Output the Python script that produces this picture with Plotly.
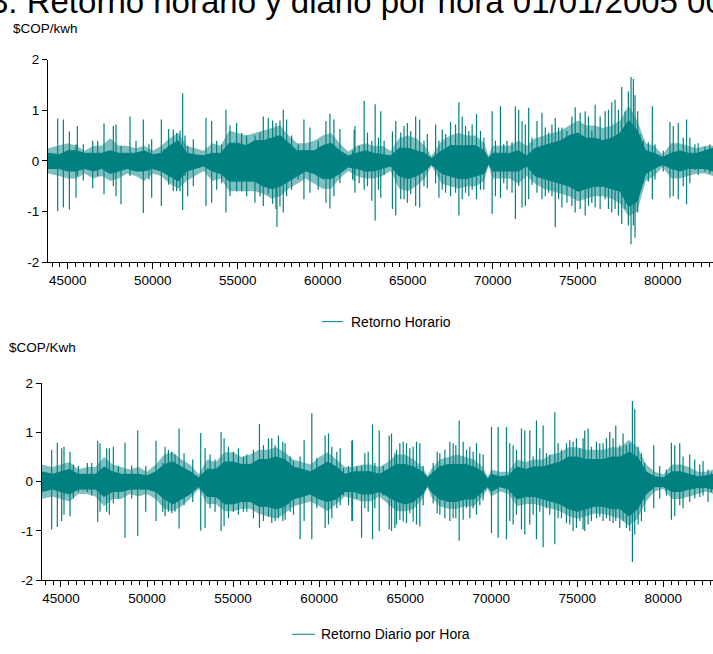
import plotly.graph_objects as go

TEAL = "#008080"
TEAL_SOFT = "rgba(0,128,128,0.5)"
FONT = "Liberation Sans, Arial, sans-serif"
W, H = 713, 654

title_text = "3. Retorno horario y diario por hora 01/01/2005 00:00 - 31/12/2009 23:00"
top_unit = "$COP/kwh"
bot_unit = "$COP/Kwh"
top_name = "Retorno Horario"
bot_name = "Retorno Diario por Hora"

x_ticks = [45000, 50000, 55000, 60000, 65000, 70000, 75000, 80000]
y_ticks = [-2, -1, 0, 1, 2]
y_ticktext = ["-2", "-1", "0", "1", "2"]

# ---------------- Retorno Horario (top) ----------------
top_core_x = [43840, 44500, 45000, 45500, 46000, 46500, 47000, 47500, 48000, 48500,
              49000, 49500, 50000, 50500, 51000, 51500, 52000, 52500, 53000, 53500,
              54000, 54500, 55000, 55500, 56000, 56500, 57000, 57500, 58000, 58500,
              59000, 59500, 60000, 60500, 61000, 61500, 62000, 62500, 63000, 63500,
              64000, 64500, 65000, 65500, 66000, 66400, 67000, 67500, 68000, 68500,
              69000, 69500, 69750, 70000, 70500, 71000, 71500, 72000, 72500, 73000,
              73500, 74000, 74500, 75000, 75500, 76000, 76500, 77000, 77500, 78000,
              78500, 79000, 79500, 80000, 80500, 81000, 81500, 82000, 82500, 82960]
top_core_hi = [0.15, 0.12, 0.20, 0.20, 0.15, 0.15, 0.15, 0.20, 0.15, 0.15,
               0.15, 0.20, 0.12, 0.15, 0.30, 0.40, 0.15, 0.12, 0.10, 0.15,
               0.15, 0.35, 0.35, 0.30, 0.40, 0.40, 0.45, 0.50, 0.35, 0.20,
               0.20, 0.20, 0.30, 0.35, 0.20, 0.10, 0.15, 0.20, 0.15, 0.12,
               0.10, 0.25, 0.25, 0.20, 0.15, 0.05, 0.20, 0.30, 0.30, 0.30,
               0.30, 0.20, 0.05, 0.15, 0.15, 0.15, 0.20, 0.10, 0.25, 0.30,
               0.35, 0.40, 0.50, 0.55, 0.45, 0.45, 0.40, 0.45, 0.55, 0.80,
               0.60, 0.20, 0.15, 0.07, 0.15, 0.20, 0.15, 0.15, 0.20, 0.25]
top_core_lo = [-0.15, -0.15, -0.20, -0.20, -0.15, -0.20, -0.15, -0.25, -0.20, -0.15,
               -0.20, -0.20, -0.15, -0.20, -0.30, -0.40, -0.20, -0.15, -0.10, -0.20,
               -0.25, -0.40, -0.40, -0.40, -0.40, -0.50, -0.55, -0.50, -0.40, -0.30,
               -0.20, -0.25, -0.35, -0.35, -0.25, -0.12, -0.15, -0.20, -0.20, -0.15,
               -0.10, -0.30, -0.35, -0.30, -0.20, -0.07, -0.25, -0.30, -0.35, -0.35,
               -0.30, -0.25, -0.05, -0.20, -0.20, -0.20, -0.20, -0.10, -0.30, -0.35,
               -0.40, -0.45, -0.50, -0.60, -0.55, -0.50, -0.50, -0.55, -0.60, -0.90,
               -0.80, -0.25, -0.15, -0.07, -0.15, -0.20, -0.15, -0.15, -0.15, -0.20]
# extent of the dense (but not solid) cloud of lines around the core
top_dense_hi = [0.25, 0.30, 0.35, 0.30, 0.20, 0.30, 0.30, 0.45, 0.30, 0.30,
                0.25, 0.30, 0.20, 0.30, 0.45, 0.55, 0.30, 0.25, 0.20, 0.35,
                0.30, 0.60, 0.55, 0.50, 0.55, 0.60, 0.65, 0.70, 0.50, 0.35,
                0.35, 0.40, 0.50, 0.55, 0.35, 0.18, 0.30, 0.35, 0.30, 0.30,
                0.20, 0.45, 0.50, 0.45, 0.30, 0.10, 0.40, 0.50, 0.55, 0.50,
                0.50, 0.35, 0.10, 0.30, 0.30, 0.30, 0.40, 0.30, 0.45, 0.50,
                0.55, 0.60, 0.70, 0.80, 0.70, 0.70, 0.65, 0.70, 0.80, 1.10,
                0.80, 0.35, 0.30, 0.12, 0.35, 0.35, 0.30, 0.25, 0.30, 0.30]
top_dense_lo = [-0.25, -0.30, -0.35, -0.35, -0.25, -0.35, -0.30, -0.40, -0.35, -0.25,
                -0.30, -0.40, -0.25, -0.30, -0.45, -0.55, -0.40, -0.30, -0.20, -0.40,
                -0.35, -0.60, -0.60, -0.60, -0.60, -0.65, -0.75, -0.70, -0.55, -0.45,
                -0.35, -0.45, -0.55, -0.55, -0.35, -0.20, -0.30, -0.35, -0.35, -0.30,
                -0.20, -0.55, -0.60, -0.50, -0.35, -0.10, -0.45, -0.50, -0.55, -0.50,
                -0.50, -0.40, -0.10, -0.35, -0.35, -0.35, -0.45, -0.30, -0.45, -0.55,
                -0.60, -0.65, -0.70, -0.80, -0.75, -0.70, -0.70, -0.75, -0.85, -1.10,
                -1.00, -0.40, -0.30, -0.12, -0.35, -0.35, -0.30, -0.25, -0.25, -0.30]

top_spike_x = [44412, 44745, 45098, 45490, 45568, 45921, 46470, 46764, 47136, 47685,
               47842, 48136, 48665, 49018, 49449, 49782, 49939, 50508, 50664, 50939,
               51213, 51409, 51605, 51762, 51899, 52056, 52389, 53134, 53467, 53761,
               54055, 54310, 54545, 54937, 55231, 55525, 56015, 56309, 56505, 56799,
               57054, 57250, 57309, 57485, 57681, 57877, 58171, 58563, 58896, 59249,
               59739, 60190, 60425, 60660, 61013, 61758, 61852, 61895, 62145, 62439,
               62634, 62888, 63084, 63279, 63416, 63612, 64101, 64297, 64590, 64785,
               64980, 65176, 65469, 65704, 65958, 66153, 66642, 66837, 67033, 67228,
               67521, 67815, 68010, 68206, 68401, 68597, 68792, 69046, 69281, 69477,
               69966, 70161, 70454, 70650, 70845, 71138, 71334, 71530, 71725, 71921,
               72116, 72312, 72605, 72898, 73094, 73289, 73485, 73680, 73876, 74071,
               74365, 74658, 74853, 75146, 75440, 75635, 75831, 76027, 76320, 76613,
               76809, 77004, 77200, 77395, 77591, 77786, 77982, 78138, 78275, 78373,
               78529, 78666, 78862, 79155, 79390, 79546, 80035, 80426, 80622, 80915,
               81208, 81404, 81599, 81892, 82088, 82479, 82772]
top_spike_hi = [0.84, 0.82, 0.58, 0.33, 0.69, 0.33, 0.40, 0.40, 0.74, 0.69,
                0.72, 0.30, 0.88, 0.40, 0.82, 0.33, 0.43, 0.82, 0.24, 0.63,
                0.62, 0.55, 0.60, 1.34, 0.50, 0.30, 0.43, 0.85, 0.79, 0.40,
                0.33, 1.01, 0.70, 0.75, 0.55, 0.50, 0.50, 0.56, 0.88, 0.85,
                0.80, 0.75, 0.50, 0.80, 1.01, 0.82, 0.50, 0.33, 0.82, 0.66,
                0.40, 0.79, 0.93, 0.82, 0.63, 0.20, 0.61, 0.69, 0.30, 1.19,
                0.56, 0.40, 1.12, 0.46, 0.98, 0.40, 0.58, 0.79, 0.56, 0.69,
                0.75, 0.59, 0.88, 0.82, 0.40, 0.53, 0.72, 0.40, 0.62, 0.53,
                0.77, 0.72, 1.16, 0.88, 0.69, 0.59, 0.72, 0.92, 0.59, 0.46,
                0.98, 0.40, 1.08, 0.33, 0.40, 0.37, 1.08, 1.01, 0.79, 0.72,
                1.05, 0.46, 0.79, 0.95, 0.66, 0.56, 0.72, 0.85, 0.66, 0.66,
                0.59, 0.88, 1.06, 0.95, 0.98, 0.88, 0.59, 1.11, 0.88, 0.98,
                1.01, 1.16, 1.21, 1.01, 1.46, 0.98, 1.37, 1.66, 1.62, 1.30,
                0.98, 0.53, 0.40, 0.37, 1.08, 0.33, 0.20, 0.77, 0.69, 0.75,
                0.46, 0.82, 0.46, 0.33, 0.35, 0.27, 0.33]
top_spike_lo = [-0.99, -0.92, -0.96, -0.73, -0.30, -0.39, -0.54, -0.30, -0.66, -0.50,
                -0.70, -0.86, -0.30, -0.20, -1.03, -0.37, -0.73, -0.89, -0.20, -0.47,
                -0.60, -0.60, -0.60, -0.97, -0.30, -0.70, -0.50, -0.89, -0.83, -0.57,
                -0.44, -1.02, -0.70, -0.60, -0.60, -0.70, -0.83, -0.70, -0.89, -0.66,
                -0.85, -0.95, -1.31, -0.90, -1.02, -0.70, -0.57, -0.37, -0.76, -0.63,
                -0.57, -0.83, -0.94, -0.70, -0.44, -0.37, -0.40, -0.63, -0.44, -0.57,
                -0.50, -0.79, -1.18, -0.57, -0.73, -0.28, -0.95, -1.08, -0.76, -0.76,
                -0.83, -0.66, -0.89, -0.92, -0.50, -0.54, -0.44, -0.73, -0.57, -0.63,
                -0.70, -0.63, -1.08, -0.76, -0.63, -0.70, -0.57, -0.76, -0.57, -0.57,
                -1.05, -0.70, -0.73, -0.44, -0.57, -0.63, -1.15, -0.50, -0.92, -0.89,
                -0.76, -0.47, -0.63, -0.76, -0.70, -0.63, -0.70, -1.31, -0.76, -0.92,
                -0.83, -0.89, -1.02, -0.95, -1.08, -0.89, -0.83, -0.92, -0.95, -0.76,
                -0.95, -1.02, -0.95, -1.08, -1.25, -0.95, -1.28, -1.65, -1.28, -1.52,
                -1.02, -0.50, -0.44, -0.41, -0.76, -0.37, -0.21, -0.73, -0.70, -0.76,
                -0.50, -0.86, -0.44, -0.18, -0.28, -0.21, -0.25]

# ---------------- Retorno Diario por Hora (bottom) ----------------
bot_core_x = [43880, 44500, 45000, 45500, 46000, 46500, 47000, 47500, 48000, 48500,
              49000, 49500, 50000, 50500, 51000, 51500, 52000, 52500, 53000, 53500,
              54000, 54500, 55000, 55500, 56000, 56500, 57000, 57500, 58000, 58500,
              59000, 59500, 60000, 60500, 61000, 61500, 62000, 62500, 63000, 63500,
              64000, 64500, 65000, 65500, 66000, 66300, 66500, 67000, 67500, 68000,
              68500, 69000, 69500, 69800, 70000, 70500, 71000, 71500, 72000, 72500,
              73000, 73500, 74000, 74500, 75000, 75500, 76000, 76500, 77000, 77500,
              78000, 78500, 79000, 79500, 80000, 80500, 81000, 81500, 82000, 82500, 82890]
bot_core_hi = [0.20, 0.15, 0.20, 0.25, 0.15, 0.15, 0.15, 0.30, 0.20, 0.15,
               0.15, 0.15, 0.12, 0.20, 0.35, 0.40, 0.30, 0.20, 0.08, 0.25,
               0.25, 0.40, 0.40, 0.35, 0.35, 0.45, 0.45, 0.50, 0.45, 0.30,
               0.25, 0.20, 0.30, 0.40, 0.30, 0.15, 0.20, 0.20, 0.20, 0.15,
               0.25, 0.35, 0.35, 0.30, 0.20, 0.08, 0.15, 0.30, 0.35, 0.35,
               0.35, 0.30, 0.20, 0.05, 0.15, 0.10, 0.12, 0.30, 0.25, 0.30,
               0.30, 0.35, 0.40, 0.50, 0.50, 0.45, 0.45, 0.45, 0.50, 0.50,
               0.60, 0.50, 0.20, 0.10, 0.08, 0.20, 0.20, 0.15, 0.10, 0.12, 0.15]
bot_core_lo = [-0.20, -0.15, -0.20, -0.25, -0.15, -0.15, -0.15, -0.30, -0.20, -0.20,
               -0.15, -0.15, -0.15, -0.20, -0.35, -0.45, -0.35, -0.25, -0.10, -0.30,
               -0.30, -0.45, -0.45, -0.40, -0.40, -0.50, -0.50, -0.55, -0.50, -0.35,
               -0.30, -0.25, -0.35, -0.40, -0.35, -0.20, -0.20, -0.25, -0.25, -0.20,
               -0.30, -0.40, -0.45, -0.40, -0.25, -0.08, -0.20, -0.35, -0.40, -0.40,
               -0.35, -0.35, -0.20, -0.10, -0.20, -0.10, -0.15, -0.35, -0.30, -0.30,
               -0.35, -0.40, -0.45, -0.55, -0.60, -0.55, -0.50, -0.50, -0.55, -0.55,
               -0.70, -0.55, -0.25, -0.10, -0.10, -0.20, -0.20, -0.15, -0.12, -0.12, -0.15]
bot_dense_hi = [0.35, 0.30, 0.35, 0.40, 0.25, 0.30, 0.30, 0.50, 0.35, 0.30,
                0.25, 0.30, 0.20, 0.35, 0.55, 0.60, 0.45, 0.35, 0.15, 0.45,
                0.40, 0.60, 0.60, 0.50, 0.55, 0.65, 0.65, 0.70, 0.60, 0.45,
                0.40, 0.35, 0.50, 0.60, 0.45, 0.30, 0.30, 0.35, 0.35, 0.30,
                0.40, 0.55, 0.55, 0.45, 0.30, 0.12, 0.25, 0.45, 0.50, 0.55,
                0.50, 0.45, 0.30, 0.10, 0.25, 0.20, 0.20, 0.45, 0.40, 0.45,
                0.45, 0.55, 0.60, 0.70, 0.70, 0.65, 0.65, 0.65, 0.70, 0.70,
                0.85, 0.70, 0.35, 0.20, 0.15, 0.35, 0.35, 0.30, 0.20, 0.20, 0.25]
bot_dense_lo = [-0.35, -0.30, -0.35, -0.40, -0.25, -0.25, -0.30, -0.50, -0.35, -0.35,
                -0.25, -0.30, -0.25, -0.35, -0.55, -0.60, -0.50, -0.35, -0.15, -0.45,
                -0.45, -0.60, -0.60, -0.55, -0.55, -0.65, -0.70, -0.75, -0.65, -0.50,
                -0.45, -0.40, -0.50, -0.60, -0.45, -0.30, -0.35, -0.40, -0.40, -0.30,
                -0.45, -0.60, -0.60, -0.55, -0.35, -0.12, -0.30, -0.50, -0.55, -0.55,
                -0.50, -0.50, -0.30, -0.15, -0.30, -0.20, -0.25, -0.50, -0.45, -0.45,
                -0.50, -0.55, -0.60, -0.70, -0.75, -0.70, -0.65, -0.65, -0.70, -0.75,
                -0.90, -0.75, -0.40, -0.20, -0.15, -0.35, -0.35, -0.30, -0.25, -0.20, -0.25]

bot_spike_x = [44457, 44787, 45039, 45174, 45523, 45717, 46008, 46531, 46783, 47132,
               47267, 47655, 47810, 48043, 48333, 48721, 49109, 49457, 49923, 50523,
               50911, 51047, 51240, 51434, 51628, 51861, 52151, 52655, 53120, 53372,
               53663, 53954, 54302, 54477, 54729, 55019, 55310, 55601, 55795, 56182,
               56531, 56764, 57054, 57248, 57442, 57636, 57888, 58023, 58314, 58508,
               58895, 59128, 59574, 59864, 60058, 60349, 60543, 60737, 61027, 61221,
               61415, 61706, 61900, 61941, 62190, 62464, 62657, 62851, 63103, 63238,
               63490, 63722, 64071, 64206, 64400, 64497, 64690, 64884, 65077, 65271,
               65465, 65658, 65852, 66045, 66626, 66859, 67013, 67304, 67594, 67788,
               67943, 68136, 68369, 68562, 68756, 68949, 69143, 69337, 69530, 70014,
               70401, 70885, 71079, 71273, 71466, 71757, 71950, 72241, 72434, 72628,
               72821, 73015, 73209, 73402, 73693, 73886, 74080, 74370, 74564, 74757,
               74951, 75145, 75338, 75435, 75629, 75822, 76113, 76306, 76500, 76693,
               76887, 77081, 77236, 77468, 77661, 77855, 78049, 78204, 78339, 78533,
               78726, 78920, 79443, 79791, 80178, 80468, 80662, 80953, 81146, 81533,
               81824, 82114, 82308, 82598, 82792]
bot_spike_hi = [0.65, 0.79, 0.68, 0.71, 0.61, 0.35, 0.32, 0.38, 0.38, 0.83,
                0.78, 0.68, 0.68, 0.71, 0.32, 0.79, 0.33, 1.04, 0.32, 0.83,
                0.38, 0.71, 0.65, 0.61, 0.55, 1.08, 0.58, 0.45, 0.99, 0.68,
                0.55, 0.45, 1.01, 0.88, 0.71, 0.61, 0.68, 0.51, 0.55, 0.65,
                1.17, 0.74, 0.88, 0.88, 0.74, 0.94, 0.81, 0.78, 0.51, 0.42,
                0.51, 0.84, 1.39, 0.48, 0.32, 0.94, 0.98, 0.71, 0.61, 0.68,
                0.28, 0.32, 0.83, 0.84, 0.32, 0.32, 0.58, 0.61, 1.16, 0.38,
                1.04, 0.32, 0.94, 0.98, 0.58, 0.65, 0.78, 0.81, 0.78, 0.68,
                0.71, 0.81, 0.78, 0.32, 0.38, 0.61, 0.58, 0.65, 0.81, 0.78,
                0.74, 1.24, 0.81, 0.65, 0.71, 0.61, 0.78, 0.58, 0.55, 1.11,
                1.11, 1.11, 0.78, 0.74, 0.65, 1.08, 1.04, 1.04, 0.51, 1.24,
                0.68, 1.14, 0.58, 0.55, 1.41, 0.78, 0.65, 0.78, 0.84, 0.81,
                0.88, 0.68, 0.88, 1.04, 1.08, 0.71, 0.81, 0.78, 0.78, 0.88,
                1.01, 0.88, 1.14, 0.74, 0.98, 0.74, 0.78, 1.64, 1.47, 0.71,
                0.58, 0.38, 0.74, 0.32, 0.25, 0.79, 0.74, 0.78, 0.51, 0.55,
                0.45, 0.35, 0.42, 0.25, 0.18]
bot_spike_lo = [-0.97, -0.92, -0.80, -0.67, -0.70, -0.34, -0.21, -0.21, -0.28, -0.82,
                -0.61, -0.61, -0.67, -0.44, -0.34, -1.14, -0.34, -1.10, -0.61, -0.80,
                -0.61, -0.70, -0.61, -0.64, -0.61, -0.95, -0.48, -0.41, -0.99, -0.94,
                -0.54, -0.61, -1.00, -0.90, -0.74, -0.61, -0.67, -0.61, -0.61, -0.74,
                -0.94, -0.80, -0.71, -0.84, -0.80, -0.74, -0.80, -0.77, -0.61, -0.67,
                -1.17, -0.80, -1.17, -0.54, -0.34, -0.94, -0.87, -0.74, -0.54, -0.48,
                -0.28, -0.48, -0.80, -0.80, -0.34, -1.14, -0.54, -0.61, -1.17, -0.54,
                -1.00, -0.28, -0.97, -1.00, -0.94, -0.87, -0.77, -0.81, -0.84, -0.64,
                -0.81, -0.87, -0.91, -0.48, -0.44, -0.64, -0.67, -0.74, -0.80, -0.74,
                -0.74, -1.20, -0.77, -0.54, -0.74, -0.54, -0.67, -0.48, -0.38, -1.04,
                -1.14, -1.17, -0.80, -0.87, -0.67, -0.97, -1.07, -0.87, -0.67, -1.17,
                -0.61, -1.33, -0.54, -0.67, -1.27, -0.74, -0.74, -0.84, -0.87, -1.00,
                -0.94, -0.80, -0.97, -1.00, -0.87, -0.80, -0.74, -0.71, -0.80, -0.74,
                -0.80, -0.84, -0.80, -0.94, -0.80, -0.94, -1.00, -1.63, -1.07, -0.87,
                -0.80, -0.61, -0.54, -0.34, -0.28, -0.77, -0.70, -0.48, -0.54, -0.41,
                -0.34, -0.31, -0.28, -0.41, -0.21]


def band(xs, hi, lo):
    return list(xs) + list(xs)[::-1], list(hi) + list(lo)[::-1]


def segments(xs, hi, lo):
    sx, sy = [], []
    for x, h, l in zip(xs, hi, lo):
        sx += [x, x, None]
        sy += [l, h, None]
    return sx, sy


def px_x(p):
    return p / W


def px_y(p):
    return 1 - p / H


fig = go.Figure()

panels = [
    (top_core_x, top_core_hi, top_core_lo, top_dense_hi, top_dense_lo,
     top_spike_x, top_spike_hi, top_spike_lo, "x", "y"),
    (bot_core_x, bot_core_hi, bot_core_lo, bot_dense_hi, bot_dense_lo,
     bot_spike_x, bot_spike_hi, bot_spike_lo, "x2", "y2"),
]
for cx, chi, clo, dhi, dlo, sxs, shi, slo, xa, ya in panels:
    bx, by = band(cx, dhi, dlo)
    fig.add_trace(go.Scatter(x=bx, y=by, mode="lines", fill="toself", fillcolor=TEAL_SOFT,
                             line=dict(width=0), xaxis=xa, yaxis=ya,
                             showlegend=False, hoverinfo="skip"))
    bx, by = band(cx, chi, clo)
    fig.add_trace(go.Scatter(x=bx, y=by, mode="lines", fill="toself", fillcolor=TEAL,
                             line=dict(color=TEAL, width=1), xaxis=xa, yaxis=ya,
                             showlegend=False, hoverinfo="skip"))
    sx, sy = segments(sxs, shi, slo)
    fig.add_trace(go.Scatter(x=sx, y=sy, mode="lines", line=dict(color=TEAL, width=1.2),
                             xaxis=xa, yaxis=ya, showlegend=False, hoverinfo="skip",
                             connectgaps=False))

axis_common = dict(showline=True, linecolor="black", linewidth=1, ticks="outside",
                   tickcolor="black", showgrid=False, zeroline=False,
                   tickfont=dict(family=FONT, size=13.5, color="black"))
minor = dict(dtick=5000 / 11, ticklen=4, ticks="outside", tickcolor="black")

fig.update_layout(
    width=W, height=H, margin=dict(l=0, r=0, t=0, b=0),
    paper_bgcolor="white", plot_bgcolor="white", showlegend=False,
    xaxis=dict(domain=[px_x(48), 1], range=[43841, 82959], tickvals=x_ticks,
               tickformat="d", ticklen=6, minor=minor, anchor="y", **axis_common),
    yaxis=dict(domain=[px_y(261), px_y(54)], range=[-2, 2], tickvals=y_ticks,
               ticktext=y_ticktext, ticklen=5, anchor="x", **axis_common),
    xaxis2=dict(domain=[px_x(41.7), 1], range=[43879, 82886], tickvals=x_ticks,
                tickformat="d", ticklen=6, minor=minor, anchor="y2", **axis_common),
    yaxis2=dict(domain=[px_y(586.7), px_y(385)], range=[-2, 2], tickvals=y_ticks,
                ticktext=y_ticktext, ticklen=5, anchor="x2", **axis_common),
)

annos = [
    dict(text=title_text, x=px_x(-12), y=px_y(15.5), xanchor="left", yanchor="bottom",
         font=dict(family=FONT, size=33, color="black")),
    dict(text=top_unit, x=px_x(11), y=px_y(22), xanchor="left", yanchor="middle",
         font=dict(family=FONT, size=13.5, color="black")),
    dict(text=bot_unit, x=px_x(7), y=px_y(348), xanchor="left", yanchor="middle",
         font=dict(family=FONT, size=13.5, color="black")),
    dict(text=top_name, x=px_x(349), y=px_y(322), xanchor="left", yanchor="middle",
         font=dict(family=FONT, size=14, color="black")),
    dict(text=bot_name, x=px_x(319), y=px_y(642), xanchor="left", yanchor="middle",
         font=dict(family=FONT, size=14, color="black")),
]
for a in annos:
    a.update(xref="paper", yref="paper", showarrow=False)
fig.update_layout(annotations=annos)

fig.update_layout(shapes=[
    dict(type="line", xref="paper", yref="paper", x0=px_x(322), x1=px_x(343),
         y0=px_y(322), y1=px_y(322), line=dict(color=TEAL, width=1)),
    dict(type="line", xref="paper", yref="paper", x0=px_x(292), x1=px_x(315),
         y0=px_y(642), y1=px_y(642), line=dict(color=TEAL, width=1)),
])

fig.write_html("out.html")
